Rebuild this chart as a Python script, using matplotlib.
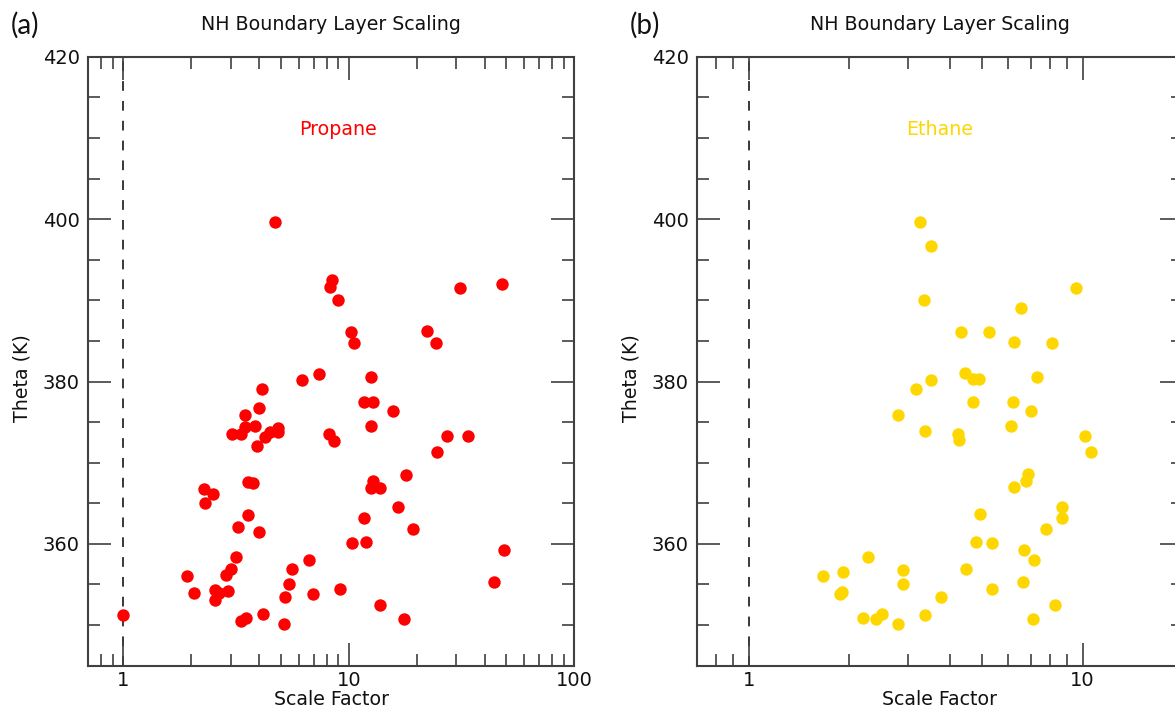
import matplotlib
matplotlib.use("Agg")
import matplotlib.pyplot as plt
from matplotlib.ticker import LogLocator, MultipleLocator, NullFormatter, FixedLocator, FixedFormatter

# ---------------- data ----------------
propane_scale = [4.7, 8.4, 8.25, 9.0, 31.0, 48.0, 10.2, 10.5, 22.3, 24.3,
                 6.2, 7.4, 12.5, 4.13, 11.7, 12.85, 4.0, 15.7, 3.47, 3.47,
                 3.84, 4.87, 4.47, 4.87, 3.04, 3.32, 4.25, 3.91, 8.2, 8.6,
                 12.6, 27.2, 33.7, 24.5, 17.9, 12.85, 12.6, 13.75, 3.56, 3.78,
                 2.28, 2.49, 2.31, 16.6, 3.59, 11.7, 3.23, 4.01, 19.3, 10.3,
                 11.9, 48.6, 3.16, 6.64, 5.60, 2.99, 2.85, 1.92, 5.45, 44.0,
                 2.07, 2.55, 2.67, 2.90, 2.56, 5.21, 6.92, 9.14, 13.75, 17.5,
                 1.0, 3.32, 3.52, 4.15, 5.16]
propane_theta = [399.6, 392.5, 391.7, 390.1, 391.5, 392.0, 386.1, 384.8, 386.2, 384.7,
                 380.2, 380.9, 380.6, 379.1, 377.5, 377.5, 376.8, 376.4, 375.9, 374.4,
                 374.5, 374.3, 373.8, 373.8, 373.5, 373.5, 373.2, 372.1, 373.5, 372.7,
                 374.5, 373.3, 373.3, 371.3, 368.5, 367.8, 366.9, 366.9, 367.6, 367.5,
                 366.7, 366.1, 365.0, 364.5, 363.6, 363.2, 362.1, 361.4, 361.8, 360.05,
                 360.2, 359.3, 358.4, 358.0, 356.85, 356.85, 356.2, 356.0, 355.0, 355.3,
                 353.9, 354.35, 354.0, 354.2, 353.1, 353.5, 353.85, 354.4, 352.5, 350.8,
                 351.2, 350.5, 350.9, 351.4, 350.1]

ethane_scale = [3.27, 3.52, 3.36, 9.53, 6.53, 4.33, 5.26, 6.25, 8.10, 4.45,
                4.71, 4.90, 3.52, 7.29, 3.18, 4.71, 6.17, 7.01, 2.81, 6.10,
                3.38, 4.25, 4.28, 10.16, 10.6, 6.88, 6.76, 6.25, 8.71, 8.71,
                4.93, 7.76, 4.81, 5.35, 6.68, 7.17, 2.28, 1.67, 1.91, 2.89,
                4.47, 2.89, 6.65, 1.90, 1.88, 3.77, 5.35, 8.28, 2.20, 2.40,
                2.50, 2.80, 3.38, 7.11]
ethane_theta = [399.6, 396.75, 390.1, 391.5, 389.0, 386.1, 386.1, 384.85, 384.7, 381.1,
                380.3, 380.3, 380.25, 380.6, 379.1, 377.5, 377.5, 376.35, 375.9, 374.5,
                373.85, 373.5, 372.75, 373.3, 371.3, 368.55, 367.8, 367.0, 364.5, 363.2,
                363.7, 361.8, 360.25, 360.05, 359.3, 358.0, 358.4, 356.0, 356.5, 356.75,
                356.9, 355.0, 355.3, 354.05, 353.85, 353.5, 354.4, 352.5, 350.9, 350.7,
                351.4, 350.1, 351.25, 350.8]

panel_titles = ["NH Boundary Layer Scaling", "NH Boundary Layer Scaling"]
panel_tags = ["(a)", "(b)"]
species = ["Propane", "Ethane"]
colors = ["#ff0000", "#ffd700"]
x_limits = [(0.7, 100), (0.7, 20)]
y_limits = (345, 420)
x_major = [1, 10, 100]
x_major_labels = ["1", "10", "100"]
reference_x = 1.0

# ---------------- figure ----------------
W, H = 1175, 711
fig = plt.figure(figsize=(W / 100, H / 100), dpi=100)
plt.rcParams["font.family"] = ["DejaVu Sans"]

spine_col = "#404040"
axes_w = 486 / W
axes_h = 608.7 / H
axes_b = 45.4 / H
lefts = [88.3 / W, 697.0 / W]
label_x = [0.514, 0.5]
tag_x = [25 / W, 645 / W]
series_x = [propane_scale, ethane_scale]
series_y = [propane_theta, ethane_theta]

for i in range(2):
    ax = fig.add_axes([lefts[i], axes_b, axes_w, axes_h])
    ax.set_xscale("log")
    ax.set_xlim(*x_limits[i])
    ax.set_ylim(*y_limits)

    ax.axvline(reference_x, color="#383838", lw=1.4, dashes=(5.0, 5.2), zorder=1)
    ax.scatter(series_x[i], series_y[i], s=80, color=colors[i], linewidths=0, zorder=3)

    ax.xaxis.set_major_locator(FixedLocator(x_major))
    ax.xaxis.set_major_formatter(FixedFormatter(x_major_labels))
    ax.xaxis.set_minor_locator(LogLocator(base=10, subs=range(2, 10), numticks=20))
    ax.xaxis.set_minor_formatter(NullFormatter())
    ax.yaxis.set_major_locator(MultipleLocator(20))
    ax.yaxis.set_minor_locator(MultipleLocator(5))

    ax.tick_params(which="both", direction="in", top=True, right=True,
                   color=spine_col, width=1.2, labelsize=14, labelcolor="#111111")
    ax.tick_params(which="major", length=16.5)
    ax.tick_params(which="minor", length=8.5)
    ax.tick_params(axis="x", which="major", pad=4)
    ax.tick_params(axis="y", which="major", pad=6)

    for sp in ax.spines.values():
        sp.set_color(spine_col)
        sp.set_linewidth(1.5)

    ax.set_xlabel("Scale Factor", fontsize=13.7, color="#111111")
    ax.xaxis.label.set_va("center")
    ax.xaxis.set_label_coords(0.5, -0.0565)
    ax.set_ylabel("Theta (K)", fontsize=13.7, color="#111111")
    ax.yaxis.label.set_va("center")
    ax.yaxis.set_label_coords(-0.136, 0.473)

    ax.text(0.5, 1.0526, panel_titles[i], transform=ax.transAxes,
            ha="center", va="center", fontsize=13.7, color="#111111")
    ax.text(label_x[i], 0.88, species[i], transform=ax.transAxes,
            ha="center", va="center", fontsize=13.7, color=colors[i])

    fig.text(tag_x[i], 1 - 25 / H, panel_tags[i], ha="center", va="center",
             fontsize=20, family=["Lato", "DejaVu Sans"], color="#111111")

fig.savefig("out.png", dpi=100)
